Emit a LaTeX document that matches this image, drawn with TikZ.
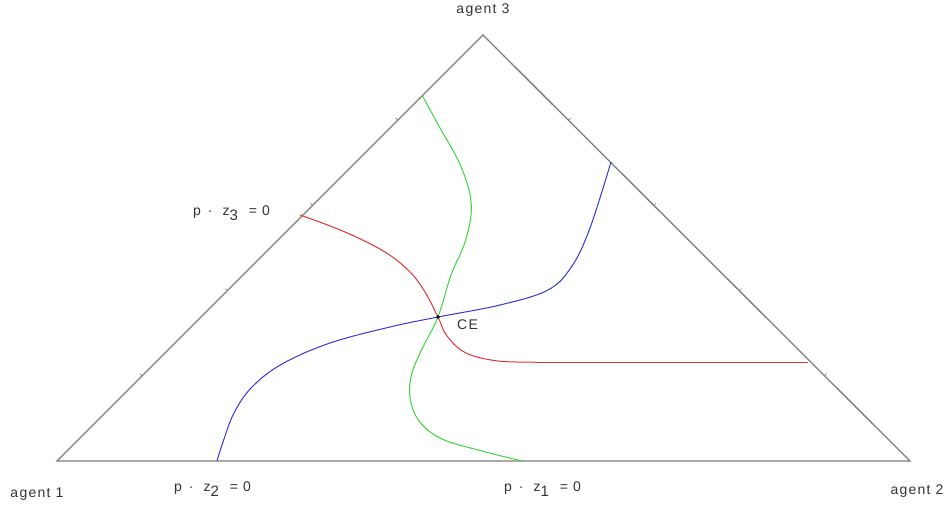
\documentclass[tikz,border=0pt]{standalone}
\usepackage{fontspec}
\usetikzlibrary{calc}
\setmainfont[LetterSpace=9]{Liberation Sans}
\definecolor{edgegray}{RGB}{125,125,125}
\definecolor{curvered}{RGB}{225,50,50}
\definecolor{curvegreen}{RGB}{60,215,60}
\definecolor{curveblue}{RGB}{55,55,215}
\tikzset{
  side/.style={edgegray, line width=1.3pt},
  tick/.style={edgegray, line width=0.6pt},
  label/.style={inner sep=0pt, font=\fontsize{14}{15}\selectfont, text=black!80},
  curve/.style={line width=1pt, smooth, tension=0.6}
}
\newcommand{\zlabel}[1]{p\hspace{7pt}·\hspace{10pt}z\raisebox{-5pt}{\fontsize{15}{15}\selectfont #1}\hspace{11pt}=\hspace{5pt}0}
\begin{document}
\begin{tikzpicture}[x=1pt, y=-1pt]
        \useasboundingbox (0,0) rectangle (951,508);

        % corners of the simplex
        \coordinate (L) at (57,461);
        \coordinate (R) at (910,461);
        \coordinate (T) at (483,35);

        % the triangle
        \draw[side, line join=miter] (L) -- (R) -- (T) -- cycle;

        % small ticks on the slanted sides
        \foreach \f in {0.2,0.4,0.6,0.8} {
          \draw[tick] ($(L)!\f!(T)$) -- ($(L)!\f!(T)!3pt!90:(T)$);
          \draw[tick] ($(T)!\f!(R)$) -- ($(T)!\f!(R)!3pt!90:(R)$);
        }

        % equilibrium point
        \coordinate (CE) at (438,317);

        % p.z3 = 0
        \coordinate (redA) at (300,215);
        \coordinate (redB) at (808,362);
        \draw[curvered, curve] plot coordinates {(redA) (345,232) (385,252) (410,272) (425,292) (CE) (447,336) (466,353) (498,361) (535,362)};
        \draw[curvered, line width=1pt] (535,362) -- (redB);

        % p.z1 = 0
        \coordinate (greenA) at (422,95);
        \coordinate (greenB) at (522,461);
        \draw[curvegreen, curve] plot coordinates {(greenA) (440,128) (458,160) (469,190) (471,215) (464,245) (451,275) (CE) (423,347) (412,373) (410,397) (419,421) (442,439) (482,451) (greenB)};

        % p.z2 = 0
        \coordinate (blueA) at (217,461);
        \coordinate (blueB) at (611,162);
        \draw[curveblue, curve] plot coordinates {(blueA) (223,442) (234,413) (252,387) (282,364) (330,343) (390,327) (CE) (500,305) (548,290) (572,266) (590,228) (blueB)};

        \fill (CE) circle (1.8pt);

        % labels
        \node[label, anchor=west] (ce) at (457,325) {CE};
        \node[label] (a3) at (483,10) {agent 3};
        \node[label] (a1) at (37,494) {agent 1};
        \node[label] (a2) at (917,491) {agent 2};
        \node[label, anchor=west] (z3) at (193,213) {\zlabel{3}};
        \node[label, anchor=west] (z2) at (174,489) {\zlabel{2}};
        \node[label, anchor=west] (z1) at (504,489) {\zlabel{1}};
\end{tikzpicture}
\end{document}
